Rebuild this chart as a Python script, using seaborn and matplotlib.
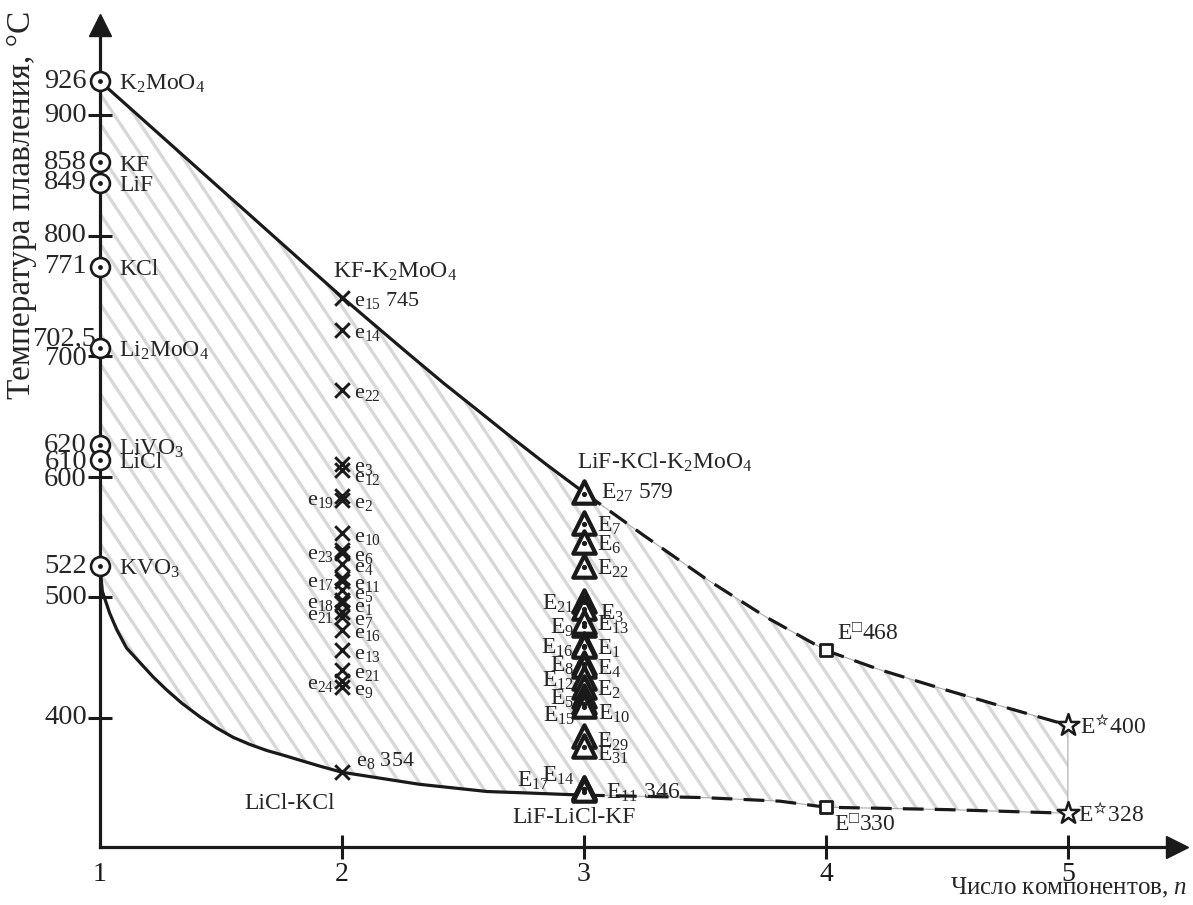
import numpy as np
import matplotlib
matplotlib.use('Agg')
import matplotlib.pyplot as plt
from matplotlib.patches import Polygon
from matplotlib.collections import LineCollection
import seaborn as sns

# --- data (temperatures as drawn on the schematic axis) ---
pure_t = [928, 861, 844, 774, 707, 626, 614, 526]
pure_names = [r'K$_2$MoO$_4$', 'KF', 'LiF', 'KCl', r'Li$_2$MoO$_4$', r'LiVO$_3$', 'LiCl', r'KVO$_3$']
ytick_vals = [928, 900, 861, 844, 800, 774, 707, 700, 626, 614, 600, 526, 500, 400]
ytick_text = ['926', '900', '858', '849', '800', '771', '702,5', '700', '620', '610', '600', '522', '500', '400']

bin_t = [748, 722, 672, 611, 606, 584, 581, 553, 539, 537, 528, 516, 514, 506,
         498, 495, 488, 484, 473, 456, 440, 431, 426, 355]
bin_names = ['15', '14', '22', '3', '12', '19', '2', '10', '23', '6', '4', '17', '11', '5',
             '18', '1', '21', '7', '16', '13', '21', '24', '9', '8']
bin_side = ['r', 'r', 'r', 'r', 'r', 'l', 'r', 'r', 'l', 'r', 'r', 'l', 'r', 'r',
            'l', 'r', 'l', 'r', 'r', 'r', 'r', 'l', 'r', 'r']

tern_t = [587, 562, 546, 526, 497, 491, 477, 480, 461, 460, 446, 443, 433, 426,
          418, 413, 410, 385, 377, 342, 342, 340]
tern_names = ['27', '7', '6', '22', '21', '3', '9', '13', '16', '1', '8', '4', '12', '2',
              '5', '10', '15', '29', '31', '14', '17', '11']
tern_side = ['r', 'r', 'r', 'r', 'l', 'r', 'l', 'r', 'l', 'r', 'l', 'r', 'l', 'r',
             'l', 'r', 'l', 'r', 'r', 'l', 'l', 'r']

quat_t = [456, 326]
quat_text = [r'E$^{□}$468', r'E$^{□}$330']
quint_t = [394, 321]
quint_text = [r'E$^{☆}$400', r'E$^{☆}$328']

# boundary curves
upper_solid_n = [1.0, 2.0, 2.14, 2.281, 2.421, 2.562, 2.702, 2.843, 3.0]
upper_solid_t = [928, 749, 725, 701, 677.5, 655, 632.5, 610.5, 587]
upper_dash_n = [3.0, 3.25, 3.5, 3.75, 4.0, 4.223, 4.5, 4.773, 5.0]
upper_dash_t = [587, 551, 516, 484, 456, 440, 423, 407, 394]
lower_solid_n = [1.0, 1.01, 1.04, 1.07, 1.11, 1.165, 1.22, 1.277, 1.34, 1.413, 1.48,
                 1.55, 1.62, 1.69, 1.76, 1.826, 1.91, 2.0, 2.16, 2.32, 2.46, 2.6,
                 2.74, 2.87, 3.0]
lower_solid_t = [526, 505, 487, 473, 458, 446, 434, 423, 412, 401, 392,
                 384, 378, 373, 369, 365, 360, 355, 350, 345, 342, 339,
                 338, 337, 336]
lower_dash_n = [3.0, 3.49, 3.81, 4.0, 4.5, 5.0]
lower_dash_t = [336, 334, 331, 326, 324, 321]

sns.set_theme(style='white')
plt.rcParams['font.family'] = ['Liberation Serif', 'DejaVu Serif']
plt.rcParams['mathtext.fontset'] = 'custom'
plt.rcParams['mathtext.rm'] = 'Liberation Serif'
plt.rcParams['mathtext.it'] = 'Liberation Serif:italic'
plt.rcParams['mathtext.fallback'] = 'stix'

fig = plt.figure(figsize=(11.93, 9.05), dpi=100)
ax = fig.add_axes([0, 0, 1, 1])
ax.set_xlim(0.587, 5.517)
ax.set_ylim(244.9, 995.4)

# hatched region between the curves
poly_n = upper_solid_n + upper_dash_n[1:] + (lower_solid_n + lower_dash_n[1:])[::-1]
poly_t = upper_solid_t + upper_dash_t[1:] + (lower_solid_t + lower_dash_t[1:])[::-1]
region = Polygon(np.column_stack([poly_n, poly_t]), closed=True, fc='none',
                 ec='#aaaaaa', lw=0.8, zorder=1)
ax.add_patch(region)
k = 1.5 * 242 / 1.206
starts = np.arange(-2.0, 5.6, 20 / 242)
hatch = LineCollection([[(c, 1000), (c + 760 / k, 240)] for c in starts],
                       colors='#d8d8d8', linewidths=2.4, zorder=0.5)
ax.add_collection(hatch)
hatch.set_clip_path(region)

# curves
line_kw = dict(color='k', lw=2.3, sort=False, estimator=None, ax=ax, zorder=3)
sns.lineplot(x=upper_solid_n, y=upper_solid_t, **line_kw)
sns.lineplot(x=lower_solid_n, y=lower_solid_t, **line_kw)
sns.lineplot(x=upper_dash_n, y=upper_dash_t, linestyle=(0, (6.5, 3.5)), **line_kw)
sns.lineplot(x=lower_dash_n, y=lower_dash_t, linestyle=(0, (6.5, 3.5)), **line_kw)

# markers
sns.scatterplot(x=[1] * len(pure_t), y=pure_t, marker='o', s=185, color='white',
                edgecolor='k', linewidth=1.9, zorder=5, ax=ax)
sns.scatterplot(x=[1] * len(pure_t), y=pure_t, marker='o', s=12, color='k',
                linewidth=0, zorder=6, ax=ax)
sns.scatterplot(x=[2] * len(bin_t), y=bin_t, marker='x', s=110, color='k',
                linewidth=2.1, zorder=5, ax=ax)
sns.scatterplot(x=[3] * len(tern_t), y=tern_t, marker='^', s=260, color='white',
                edgecolor='k', linewidth=3, zorder=5, ax=ax)
sns.scatterplot(x=[3] * len(tern_t), y=[t - 1 for t in tern_t], marker='o', s=14,
                color='k', linewidth=0, zorder=6, ax=ax)
sns.scatterplot(x=[4] * len(quat_t), y=quat_t, marker='s', s=80, color='white',
                edgecolor='k', linewidth=2, zorder=5, ax=ax)
sns.scatterplot(x=[5] * len(quint_t), y=quint_t, marker='*', s=270, color='white',
                edgecolor='k', linewidth=1.8, zorder=5, ax=ax)


def note(txt, x, y, dx, dy, ha='left', size=16):
    # dx, dy in screen pixels, dy positive downward
    ax.annotate(txt, xy=(x, y), xytext=(dx, -dy), textcoords='offset pixels',
                ha=ha, va='center', fontsize=size, zorder=7)


# y axis numbers
ynudge = {'702,5': (-4, -8), '700': (-13, 2), '610': (-13, 3), '600': (-13, 3)}
for val, txt in zip(ytick_vals, ytick_text):
    dx, dy = ynudge.get(txt, (-13, 0))
    note(txt, 1, val, dx, dy, ha='right', size=20.5)

for t, name in zip(pure_t, pure_names):
    note(name, 1, t, 19, 3, size=17)

bin_over = {'12': (12, 8), '15': (12, 2), '8': (14, -12)}
for t, name, side in zip(bin_t, bin_names, bin_side):
    txt = 'e$_{%s}$' % name
    if name == '15':
        txt += ' 745'
    if name == '8':
        txt += ' 354'
    dx, dy = bin_over.get(name, (12, 4) if side == 'r' else (-8, 4))
    note(txt, 2, t, dx, dy, ha='left' if side == 'r' else 'right')

tern_over = {'27': (17, 0), '3': (16, 6), '10': (14, 12), '15': (-9, 10),
             '29': (13, 6), '31': (13, 9), '14': (-9, -12), '17': (-34, -7), '11': (22, 3)}
for t, name, side in zip(tern_t, tern_names, tern_side):
    txt = 'E$_{%s}$' % name
    if name == '27':
        txt += ' 579'
    if name == '11':
        txt += ' 346'
    dx, dy = tern_over.get(name, (13, 3) if side == 'r' else (-10, 3))
    note(txt, 3, t, dx, dy, ha='left' if side == 'r' else 'right', size=17)

note(quat_text[0], 4, quat_t[0], 11, -17, size=17)
note(quat_text[1], 4, quat_t[1], 8, 18, size=17)
note(quint_text[0], 5, quint_t[0], 12, 2, size=17)
note(quint_text[1], 5, quint_t[1], 10, 2, size=17)

# system names
note(r'KF-K$_2$MoO$_4$', 2, bin_t[0], 53, -26, ha='center', size=17)
note(r'LiF-KCl-K$_2$MoO$_4$', 3, tern_t[0], 81, -30, ha='center', size=17)
note('LiCl-KCl', 2, bin_t[-1], -52, 31, ha='center', size=17)
note('LiF-LiCl-KF', 3, tern_t[-1], -10, 27, ha='center', size=17)

# axes with arrows
for s in ['top', 'right']:
    ax.spines[s].set_visible(False)
ax.spines['left'].set_position(('data', 1))
ax.spines['bottom'].set_position(('data', 293))
ax.spines['left'].set_bounds(293, 975)
ax.spines['bottom'].set_bounds(1, 5.45)
for s in ['left', 'bottom']:
    ax.spines[s].set_color('k')
    ax.spines[s].set_linewidth(2.3)
    ax.spines[s].set_zorder(4)
ax.plot([1], [975], marker='^', ms=16, color='k', clip_on=False, zorder=4)
ax.plot([5.45], [293], marker='>', ms=16, color='k', clip_on=False, zorder=4)

ax.set_xticks([1, 2, 3, 4, 5], labels=['1', '2', '3', '4', '5'])
ax.set_yticks([400, 500, 600, 700, 800, 900])
ax.tick_params(bottom=True, left=True, direction='inout', length=17, width=2.2, color='k')
ax.tick_params(axis='x', labelsize=20, pad=2, labelcolor='k')
ax.tick_params(axis='y', labelleft=False)
ax.xaxis.get_major_ticks()[0].tick1line.set_visible(False)
ax.set_facecolor('white')

fig.text(0.018, 0.988, 'Температура плавления, °C', rotation=90, ha='center',
         va='top', fontsize=24)
fig.text(0.995, 0.006, r'Число компонентов, $n$', ha='right', va='bottom', fontsize=18)

fig.savefig('out.png', dpi=100)
